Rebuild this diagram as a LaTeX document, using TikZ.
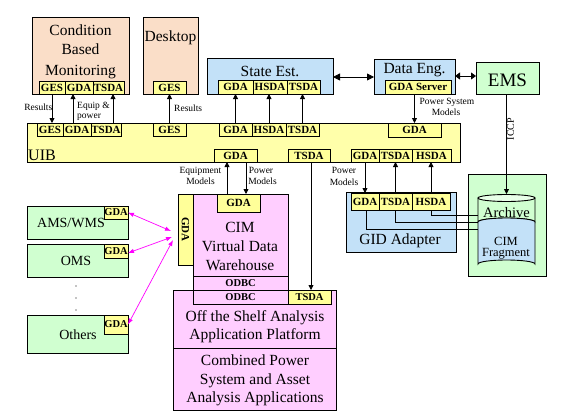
\documentclass[tikz,border=0pt]{standalone}
\usepackage{fontspec}
\setmainfont{Liberation Serif}
\usetikzlibrary{arrows.meta,calc}
\definecolor{peach}{RGB}{250,222,200}
\definecolor{bluef}{RGB}{195,225,248}
\definecolor{greenf}{RGB}{208,255,208}
\definecolor{greenl}{RGB}{232,255,232}
\definecolor{pinkf}{RGB}{255,206,255}
\definecolor{ylw}{RGB}{255,255,153}
\definecolor{uibf}{RGB}{255,255,170}
\definecolor{mag}{RGB}{255,0,255}
\newcommand\fBig{\fontsize{15.5}{18}\selectfont}
\newcommand\fMid{\fontsize{14}{16}\selectfont}
\newcommand\fFrag{\fontsize{12.5}{14}\selectfont}
\newcommand\fSub{\fontsize{11}{13}\selectfont\bfseries}
\newcommand\fSm{\fontsize{10.5}{12}\selectfont\bfseries}
\newcommand\fLbl{\fontsize{9.5}{11}\selectfont}
\begin{document}
\begin{tikzpicture}[x=1pt,y=-1pt,
  box/.style={draw, line width=0.9pt, inner sep=0pt, outer sep=0pt, anchor=north west},
  sub/.style={box, fill=ylw, font=\fSub},
  subs/.style={box, fill=ylw, font=\fSm},
  lab/.style={inner sep=0pt, anchor=base, font=\fBig},
  small/.style={inner sep=0pt, anchor=base, font=\fLbl},
  arr/.style={line width=0.8pt, -{Triangle[length=5pt,width=5pt]}},
  dbl/.style={line width=0.8pt, {Triangle[length=7pt,width=7pt]}-{Triangle[length=7pt,width=7pt]}},
  dbls/.style={line width=0.8pt, {Triangle[length=5pt,width=7pt]}-{Triangle[length=5pt,width=7pt]}},
  marr/.style={mag, line width=0.7pt, {Latex[length=6pt,width=4.5pt]}-{Latex[length=6pt,width=4.5pt]}},
  plain/.style={line width=0.8pt}
]
\useasboundingbox (0,0) rectangle (578,420);

% ---------- top row ----------
\node[box, fill=peach, minimum width=97pt, minimum height=77pt] (cbm) at (32,17) {};
\node[sub, minimum width=26pt, minimum height=13pt] (cbm-ges) at (39,81) {GES};
\node[sub, minimum width=28pt, minimum height=13pt] (cbm-gda) at (65,81) {GDA};
\node[sub, minimum width=31pt, minimum height=13pt] (cbm-tsda) at (93,81) {TSDA};
\node[lab] (t-cbm1) at (80.5,36) {Condition};
\node[lab] (t-cbm2) at (80.5,55) {Based};
\node[lab] (t-cbm3) at (80.5,75) {Monitoring};

\node[box, fill=peach, minimum width=55pt, minimum height=77pt] (desk) at (143,17) {};
\node[sub, minimum width=33pt, minimum height=13pt] (desk-ges) at (153,81) {GES};
\node[lab] (t-desk) at (170.5,42) {Desktop};

\node[box, fill=bluef, minimum width=126pt, minimum height=36pt] (se) at (207,58) {};
\node[sub, minimum width=35pt, minimum height=14pt] (se-gda) at (218,80) {GDA};
\node[sub, minimum width=34pt, minimum height=14pt] (se-hsda) at (253,80) {HSDA};
\node[sub, minimum width=33pt, minimum height=14pt] (se-tsda) at (287,80) {TSDA};
\node[lab] (t-se) at (270,76.5) {State Est.};

\node[box, fill=bluef, minimum width=81pt, minimum height=35pt] (de) at (374,59) {};
\node[sub, minimum width=66pt, minimum height=14pt] (de-gda) at (385,80) {GDA Server};
\node[lab] (t-de) at (414.5,74) {Data Eng.};

\node[box, fill=greenf, minimum width=63pt, minimum height=32pt] (ems) at (476,62) {};
\node[lab, font=\fontsize{19}{22}\selectfont] (t-ems) at (507.5,86) {EMS};

% ---------- UIB ----------
\node[box, fill=uibf, minimum width=433pt, minimum height=39pt] (uib) at (27,123) {};
\node[inner sep=0pt, anchor=base west, font=\fontsize{16}{18}\selectfont] (t-uib) at (28,160) {UIB};
\node[sub, minimum width=26pt, minimum height=13pt] (u-ges1) at (37,123) {GES};
\node[sub, minimum width=28pt, minimum height=13pt] (u-gda1) at (63,123) {GDA};
\node[sub, minimum width=30pt, minimum height=13pt] (u-tsda1) at (91,123) {TSDA};
\node[sub, minimum width=33pt, minimum height=13pt] (u-ges2) at (153,123) {GES};
\node[sub, minimum width=33pt, minimum height=13pt] (u-gda2) at (219,123) {GDA};
\node[sub, minimum width=34pt, minimum height=13pt] (u-hsda2) at (252,123) {HSDA};
\node[sub, minimum width=33pt, minimum height=13pt] (u-tsda2) at (286,123) {TSDA};
\node[sub, minimum width=53pt, minimum height=14pt] (u-gda3) at (388,123) {GDA};
\node[sub, minimum width=43pt, minimum height=13pt] (u-gda4) at (214,149) {GDA};
\node[sub, minimum width=42pt, minimum height=13pt] (u-tsda4) at (288,149) {TSDA};
\node[sub, minimum width=28pt, minimum height=13pt] (u-gda5) at (351,149) {GDA};
\node[sub, minimum width=33pt, minimum height=13pt] (u-tsda5) at (379,149) {TSDA};
\node[sub, minimum width=39pt, minimum height=13pt] (u-hsda5) at (412,149) {HSDA};

% ---------- CIM ----------
\node[box, fill=pinkf, minimum width=95pt, minimum height=82pt] (cim) at (193,194) {};
\node[sub, minimum width=43pt, minimum height=18pt] (cim-gda) at (217,194) {GDA};
\node[box, fill=ylw, minimum width=15pt, minimum height=71pt] (cim-vgda) at (178,194) {};
\node[font=\fSub, rotate=-90, inner sep=0pt] (t-vgda) at (cim-vgda.center) {GDA};
\node[lab] (t-cim1) at (240,232.5) {CIM};
\node[lab] (t-cim2) at (240,251.5) {Virtual Data};
\node[lab] (t-cim3) at (240,270) {Warehouse};
\node[box, fill=pinkf, font=\fSm, minimum width=95pt, minimum height=14pt] (cim-odbc) at (193,276) {ODBC};

\node[box, fill=pinkf, minimum width=163pt, minimum height=58pt] (ots) at (173,290) {};
\node[box, fill=pinkf, font=\fSm, minimum width=95pt, minimum height=14pt] (ots-odbc) at (193,290) {ODBC};
\node[subs, minimum width=43pt, minimum height=14pt] (ots-tsda) at (288,290) {TSDA};
\node[lab] (t-ots1) at (255,321) {Off the Shelf Analysis};
\node[lab] (t-ots2) at (255,339) {Application Platform};
\node[box, fill=pinkf, minimum width=163pt, minimum height=62pt] (cpa) at (173,348) {};
\node[lab] (t-cpa1) at (255,365) {Combined Power};
\node[lab] (t-cpa2) at (255,384) {System and Asset};
\node[lab] (t-cpa3) at (255,402) {Analysis Applications};

% ---------- GID adapter ----------
\node[box, fill=bluef, minimum width=110pt, minimum height=60pt] (gid) at (346,192) {};
\node[sub, minimum width=28pt, minimum height=17pt] (gid-gda) at (351,193) {GDA};
\node[sub, minimum width=33pt, minimum height=17pt] (gid-tsda) at (379,193) {TSDA};
\node[sub, minimum width=38pt, minimum height=17pt] (gid-hsda) at (412,193) {HSDA};
\node[lab] (t-gid) at (400,244) {GID Adapter};

% ---------- archive ----------
\node[box, fill=greenf, minimum width=78pt, minimum height=102pt] (arc) at (468,174) {};
\coordinate (cyl-top) at (506.5,194);
\coordinate (cyl-w1) at (478,215);
\coordinate (cyl-w2) at (478,222);
\coordinate (cyl-w3) at (478,229);
\draw[line width=0.9pt, fill=greenf] (478,198) -- (478,222) arc[start angle=180, end angle=360, x radius=28.5, y radius=4] -- (535,198) -- cycle;
\draw[line width=0.9pt, fill=bluef] (478,222) arc[start angle=180, end angle=360, x radius=28.5, y radius=4] -- (535,264) arc[start angle=360, end angle=180, x radius=28.5, y radius=4] -- cycle;
\draw[line width=0.9pt, fill=greenl] (506.5,198) ellipse [x radius=28.5, y radius=3.5];
\node[inner sep=0pt, anchor=base, font=\fontsize{14.5}{16}\selectfont] (t-arch) at (506.5,217) {Archive};
\node[inner sep=0pt, anchor=base, font=\fFrag] (t-frag1) at (506,245) {CIM};
\node[inner sep=0pt, anchor=base, font=\fFrag] (t-frag2) at (506,256.5) {Fragment};

% ---------- left systems ----------
\node[box, fill=greenf, minimum width=101pt, minimum height=33pt] (ams) at (27,206) {};
\node[subs, minimum width=24pt, minimum height=13pt] (ams-gda) at (104,206) {GDA};
\node[inner sep=0pt, anchor=base, font=\fMid] (t-ams) at (71,227) {AMS/WMS};
\node[box, fill=greenf, minimum width=101pt, minimum height=33pt] (oms) at (27,244) {};
\node[subs, minimum width=24pt, minimum height=14pt] (oms-gda) at (104,244) {GDA};
\node[inner sep=0pt, anchor=base, font=\fMid] (t-oms) at (76,265) {OMS};
\node[box, fill=greenf, minimum width=101pt, minimum height=38pt] (oth) at (27,315) {};
\node[subs, minimum width=24pt, minimum height=19pt] (oth-gda) at (104,315) {GDA};
\node[inner sep=0pt, anchor=base, font=\fMid] (t-oth) at (78,339) {Others};
\fill (76,286) circle (0.7pt) (76,298) circle (0.7pt) (76,310) circle (0.7pt);

% ---------- connectors: top ----------
\draw[arr] (cbm-ges.south) -- (cbm-ges.south |- uib.north);
\draw[arr] ([xshift=10pt]u-gda1.north west) -- ([xshift=10pt]u-gda1.north west |- cbm-gda.south);
\draw[arr] ([xshift=22pt]u-tsda1.north west) -- ([xshift=22pt]u-tsda1.north west |- cbm-tsda.south);
\draw[arr] (u-ges2.north) -- (desk-ges.south);
\draw[arr] (u-gda2.north) -- (u-gda2.north |- se-gda.south);
\draw[arr] (u-hsda2.north) -- (u-hsda2.north |- se-hsda.south);
\draw[arr] (u-tsda2.north) -- (u-tsda2.north |- se-tsda.south);
\draw[arr] (u-gda3.north |- de-gda.south) -- (u-gda3.north);
\draw[dbl] (se.east |- 0,77) -- (de.west |- 0,77);
\draw[dbls] (de.east |- 0,76) -- (ems.west |- 0,76);
\draw[arr] ([xshift=-1pt]ems.south) -- ([xshift=-1pt]ems.south |- cyl-top);

\node[small, anchor=base east] (l-res1) at (52.5,110) {Results};
\node[small, anchor=base west] (l-eq1) at (77,108) {Equip \&};
\node[small, anchor=base west] (l-eq2) at (77,118.5) {power};
\node[small, anchor=base west] (l-res2) at (174,111.5) {Results};
\node[small] (l-psm1) at (447,104) {Power System};
\node[small] (l-psm2) at (446,115.5) {Models};
\node[inner sep=0pt, font=\fontsize{10}{12}\selectfont, rotate=90] (l-iccp) at (510.5,129) {ICCP};

% ---------- connectors: below UIB ----------
\draw[arr] ([xshift=13pt]u-gda4.south west |- cim.north) -- ([xshift=13pt]u-gda4.south west);
\draw[arr] ([xshift=32pt]u-gda4.south west) -- ([xshift=32pt]u-gda4.south west |- cim-gda.north);
\draw[arr] ([xshift=2pt]u-tsda4.south) -- ([xshift=2pt]u-tsda4.south |- ots-tsda.north);
\draw[arr] (u-gda5.south) -- (u-gda5.south |- gid-gda.north);
\draw[arr] (gid-tsda.north) -- (gid-tsda.north |- u-tsda5.south);
\draw[arr] (gid-hsda.north) -- (gid-hsda.north |- u-hsda5.south);

\node[small] (l-em1) at (200.5,173) {Equipment};
\node[small] (l-em2) at (200.5,184) {Models};
\node[small] (l-pm1) at (261,173) {Power};
\node[small] (l-pm2) at (262.5,184) {Models};
\node[small] (l-pm3) at (344,173) {Power};
\node[small] (l-pm4) at (344,185) {Models};

% ---------- GID to archive ----------
\draw[plain] (gid-hsda.south) |- (cyl-w1);
\draw[plain] (gid-tsda.south) |- (cyl-w2);
\draw[plain] ([xshift=1pt]gid-gda.south) |- (cyl-w3);

% ---------- magenta links ----------
\coordinate (m1) at (171,231);
\coordinate (m2) at (172,237);
\coordinate (m3) at (173,240);
\draw[marr] (ams-gda.east) -- (m1);
\draw[marr] ([yshift=-2pt]oms-gda.east) -- (m2);
\draw[marr] (oth-gda.east) -- (m3);
\end{tikzpicture}
\end{document}
